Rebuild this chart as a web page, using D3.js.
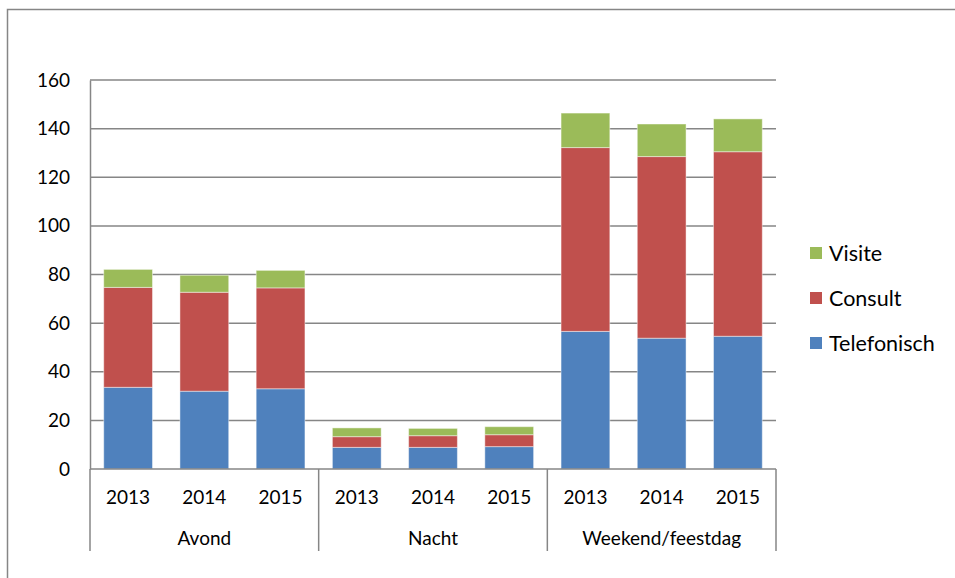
<!DOCTYPE html>
<html>
<head>
<meta charset="utf-8">
<script src="https://cdn.jsdelivr.net/npm/d3@7"></script>
<style>
  body { margin: 0; background: #fff; }
  text { font-family: Lato, "Open Sans", sans-serif; fill: #000; }
</style>
</head>
<body>
<div id="chart"></div>
<script>
// data
var groups = ["Avond", "Nacht", "Weekend/feestdag"];
var years = ["2013", "2014", "2015"];
var telefonisch = [33.6, 32.0, 33.0, 8.9, 8.9, 9.2, 56.6, 53.8, 54.6];
var consult = [41.1, 40.7, 41.5, 4.4, 4.8, 4.9, 75.6, 74.7, 75.9];
var visite = [7.4, 7.0, 7.2, 3.6, 3.0, 3.3, 14.2, 13.4, 13.5];
var seriesNames = ["Telefonisch", "Consult", "Visite"];
var yTicks = [0, 20, 40, 60, 80, 100, 120, 140, 160];

var width = 955, height = 578;
var margin = {top: 80, left: 90, right: 776, bottom: 469};
var colors = {Telefonisch: "#4F81BD", Consult: "#C0504D", Visite: "#9BBB59"};
var gridColor = "#868686";

var svg = d3.select("#chart").append("svg")
    .attr("width", width)
    .attr("height", height);

// chart frame (cut off on right and bottom like the reference)
svg.append("path")
    .attr("d", "M7.5," + height + " L7.5,9.5 L" + width + ",9.5")
    .attr("fill", "none")
    .attr("stroke", gridColor)
    .attr("stroke-width", 1.5);

var rows = [];
groups.forEach(function(g, gi) {
    years.forEach(function(y, yi) {
        var i = gi * 3 + yi;
        rows.push({key: g + "|" + y, group: g, year: y,
            Telefonisch: telefonisch[i], Consult: consult[i], Visite: visite[i]});
    });
});

var xScale = d3.scaleBand()
    .domain(rows.map(function(d) { return d.key; }))
    .range([margin.left, margin.right])
    .paddingInner(0.36)
    .paddingOuter(0.18);
var yScale = d3.scaleLinear().domain([0, 160]).range([margin.bottom, margin.top]);

// gridlines
svg.append("g").selectAll("line")
    .data(yTicks.slice(1))
    .enter().append("line")
    .attr("x1", margin.left).attr("x2", margin.right)
    .attr("y1", function(d) { return yScale(d); })
    .attr("y2", function(d) { return yScale(d); })
    .attr("stroke", gridColor)
    .attr("stroke-width", 1.5);

// y axis
var yAxis = d3.axisLeft(yScale).tickValues(yTicks).tickSize(0).tickPadding(20);
var gy = svg.append("g")
    .attr("transform", "translate(" + margin.left + ",0)")
    .call(yAxis);
gy.select(".domain").attr("stroke", gridColor).attr("stroke-width", 1.5);
gy.selectAll("text").style("font-size", "19px").attr("font-family", null);

// stacked bars
var stack = d3.stack().keys(seriesNames);
var layers = stack(rows);
svg.append("g").selectAll("g")
    .data(layers)
    .enter().append("g")
    .attr("fill", function(d) { return colors[d.key]; })
  .selectAll("rect")
    .data(function(d) { return d; })
    .enter().append("rect")
    .attr("x", function(d) { return xScale(d.data.key); })
    .attr("width", xScale.bandwidth())
    .attr("y", function(d) { return yScale(d[1]); })
    .attr("height", function(d) { return yScale(d[0]) - yScale(d[1]); })
    .attr("stroke", "rgba(255,255,255,0.45)")
    .attr("stroke-width", 1);

// x axis: line, year labels, group labels and separators
svg.append("line")
    .attr("x1", margin.left).attr("x2", margin.right)
    .attr("y1", margin.bottom).attr("y2", margin.bottom)
    .attr("stroke", gridColor).attr("stroke-width", 1.5);

svg.append("g").selectAll("text")
    .data(rows)
    .enter().append("text")
    .attr("x", function(d) { return xScale(d.key) + xScale.bandwidth() / 2; })
    .attr("y", 504)
    .attr("text-anchor", "middle")
    .style("font-size", "19px")
    .text(function(d) { return d.year; });

var step = xScale.step();
var groupEdges = d3.range(groups.length + 1).map(function(i) {
    return margin.left + i * 3 * step;
});
svg.append("g").selectAll("line")
    .data(groupEdges)
    .enter().append("line")
    .attr("x1", function(d) { return d; }).attr("x2", function(d) { return d; })
    .attr("y1", margin.bottom).attr("y2", 551)
    .attr("stroke", gridColor).attr("stroke-width", 1.5);

svg.append("g").selectAll("text")
    .data(groups)
    .enter().append("text")
    .attr("x", function(d, i) { return (groupEdges[i] + groupEdges[i + 1]) / 2; })
    .attr("y", 545)
    .attr("text-anchor", "middle")
    .style("font-size", "19px")
    .text(function(d) { return d; });

// legend
var legendItems = ["Visite", "Consult", "Telefonisch"];
var legend = svg.append("g").selectAll("g")
    .data(legendItems)
    .enter().append("g")
    .attr("transform", function(d, i) { return "translate(810," + (253 + i * 45) + ")"; });
legend.append("rect")
    .attr("x", 0).attr("y", -6)
    .attr("width", 12).attr("height", 12)
    .attr("fill", function(d) { return colors[d]; });
legend.append("text")
    .attr("x", 19).attr("y", 7.5)
    .style("font-size", "21.5px")
    .text(function(d) { return d; });
</script>
</body>
</html>
